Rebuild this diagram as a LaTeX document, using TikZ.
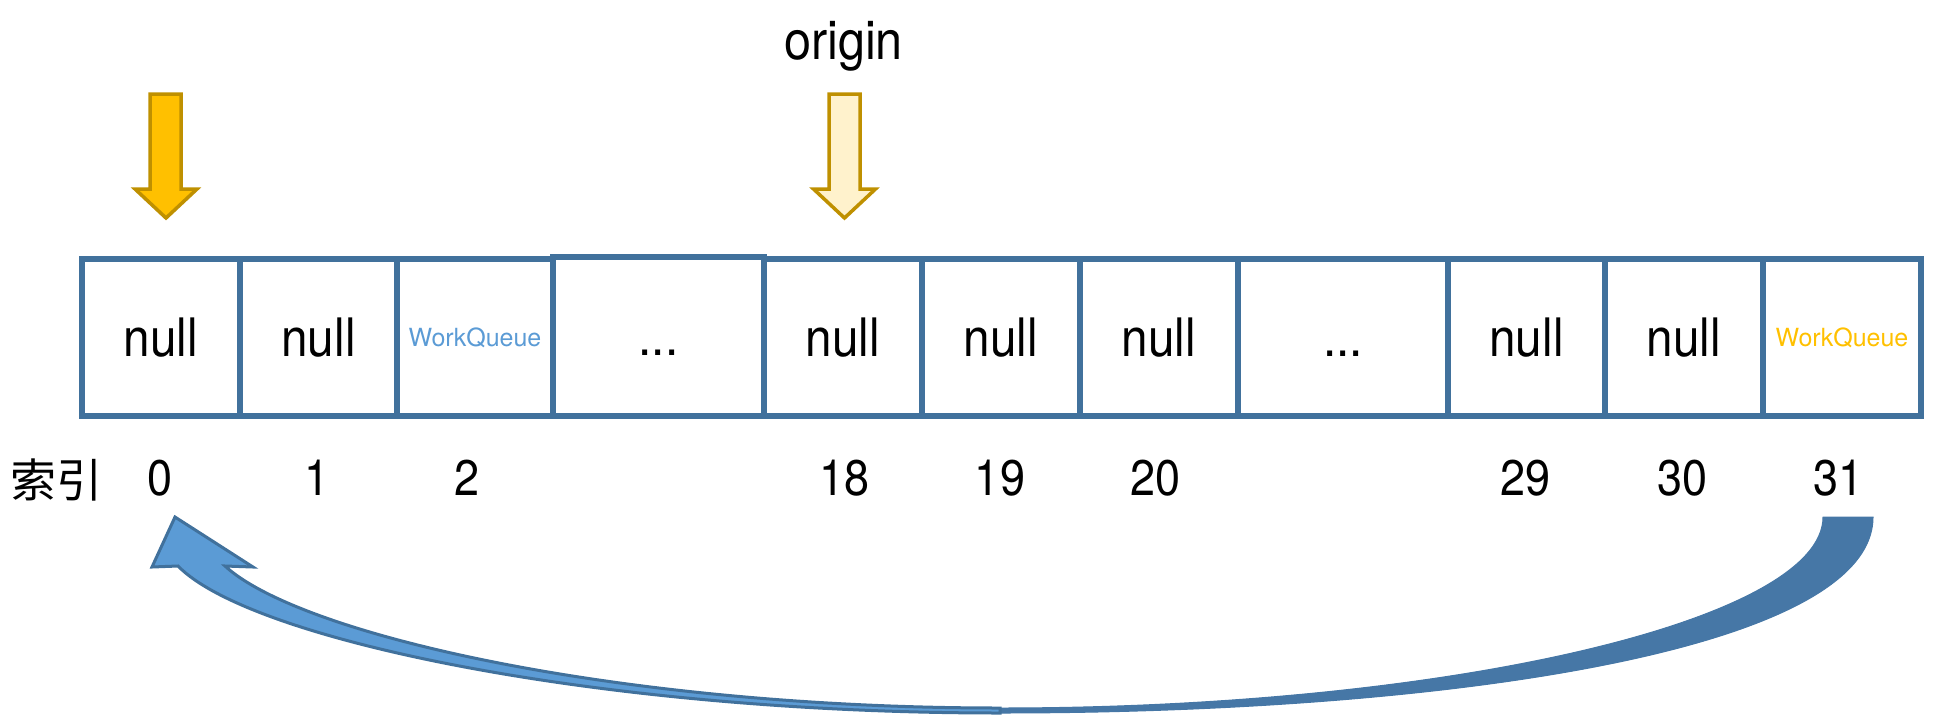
\documentclass[tikz,border=0pt]{standalone}
\usepackage{fontspec}
\setmainfont{TeX Gyre Heros}
\newfontfamily\narrowfont[FakeStretch=0.9]{TeX Gyre Heros}
\newfontfamily\cjk{Noto Sans CJK SC}
\definecolor{boxblue}{HTML}{41719C}
\definecolor{wqblue}{HTML}{5B9BD5}
\definecolor{wqyellow}{HTML}{FFC000}
\definecolor{goldline}{HTML}{BF9000}
\definecolor{gold}{HTML}{FFC000}
\definecolor{paleGold}{HTML}{FFF2CC}
\definecolor{arcdark}{HTML}{4677A6}
\definecolor{arclight}{HTML}{5B9BD5}
\begin{document}
\begin{tikzpicture}[x=1pt,y=-1pt,
  cell/.style={draw=boxblue, line width=6.5pt, inner sep=0pt, outer sep=0pt,
    minimum height=157pt, text height=38pt, text depth=0pt,
    font=\narrowfont\fontsize{53}{60}\selectfont},
  wq/.style={font=\fontsize{25}{30}\selectfont, text height=18pt},
  idx/.style={inner sep=0pt, text height=35pt, text depth=0pt,
    font=\narrowfont\fontsize{50}{56}\selectfont},
  pointer/.style={draw=goldline, line width=3.5pt, line join=miter},
  arcback/.style={fill=arcdark, draw=arcdark, line width=1pt},
  arcfront/.style={fill=arclight, draw=boxblue, line width=3pt, line join=miter}
]
\useasboundingbox (0,0) rectangle (1940,726);

% cells
\node[cell, minimum width=158pt] (c0) at (161,337.5) {null};
\node[cell, minimum width=157pt] (c1) at (318.5,337.5) {null};
\node[cell, minimum width=156pt, wq, text=wqblue] (c2) at (475,337.5) {WorkQueue};
\node[cell, minimum width=211pt, minimum height=159pt] (c3) at (658.5,336.5) {...};
\node[cell, minimum width=158pt] (c18) at (843,337.5) {null};
\node[cell, minimum width=158pt] (c19) at (1001,337.5) {null};
\node[cell, minimum width=158pt] (c20) at (1159,337.5) {null};
\node[cell, minimum width=210pt] (c21) at (1343,337.5) {...};
\node[cell, minimum width=157pt] (c29) at (1526.5,337.5) {null};
\node[cell, minimum width=158pt] (c30) at (1684,337.5) {null};
\node[cell, minimum width=158pt, wq, text=wqyellow] (c31) at (1842,337.5) {WorkQueue};

% index labels
\node[font=\cjk\fontsize{46}{52}\selectfont, inner sep=0pt] (idxlabel) at (56,480) {索引};
\node[idx] (l0) at (160,478) {0};
\node[idx] (l1) at (317,478) {1};
\node[idx] (l2) at (467,478) {2};
\node[idx] (l18) at (844.5,478) {18};
\node[idx] (l19) at (1000,478) {19};
\node[idx] (l20) at (1155.5,478) {20};
\node[idx] (l29) at (1525.5,478) {29};
\node[idx] (l30) at (1682.5,478) {30};
\node[idx] (l31) at (1838,478) {31};

% origin label
\node[font=\narrowfont\fontsize{54}{60}\selectfont, inner sep=0pt] (origin) at (843.5,46.5) {origin};

% pointer arrows
\draw[pointer, fill=gold] (150,94) -- (181,94) -- (181,189) -- (197,189) -- (166,218) -- (135,189) -- (150,189) -- cycle;
\draw[pointer, fill=paleGold] (829,94) -- (860,94) -- (860,189) -- (875.5,189) -- (844.5,218) -- (813.5,189) -- (829,189) -- cycle;

% curved wrap-around arrow from 31 back to 0
\coordinate (tail) at (1848,517);
\coordinate (tip) at (175,517);
\filldraw[arcback] (1873,517) .. controls (1873,650) and (1450,713) .. (1000,713)
  -- (1000,708) .. controls (1450,708) and (1823,620) .. (1823,517) -- cycle;
\filldraw[arcfront] (1000,713) .. controls (600,713) and (250,640) .. (178,566)
  -- (152,567) -- (tip) -- (253,567) -- (225,566)
  .. controls (300,635) and (620,708) .. (1000,708) -- cycle;
\end{tikzpicture}
\end{document}
